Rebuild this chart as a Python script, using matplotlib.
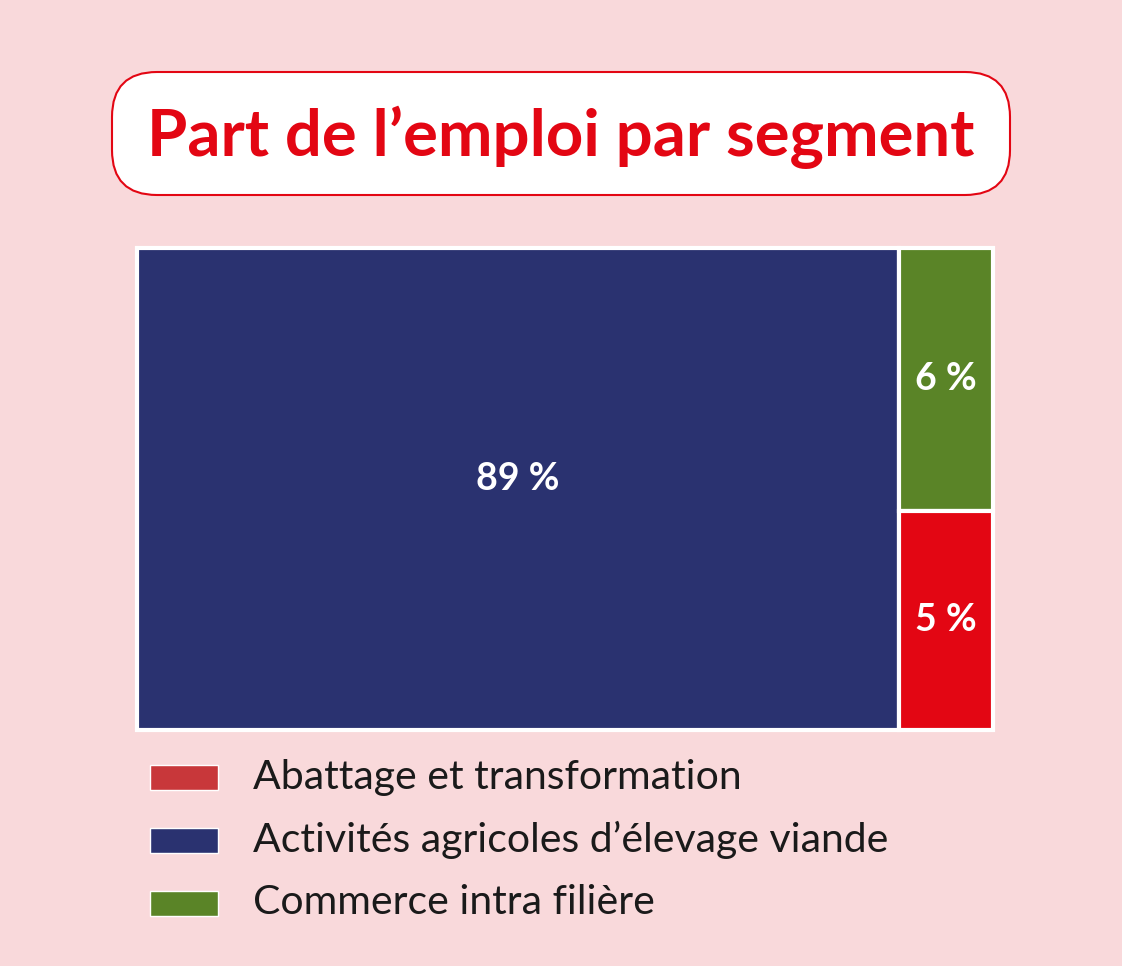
import matplotlib.pyplot as plt
from matplotlib.patches import FancyBboxPatch, Rectangle

plt.rcParams['font.family'] = ['Lato', 'DejaVu Sans']

segments = ['Abattage et transformation', 'Activités agricoles d\u2019élevage viande', 'Commerce intra filière']
shares = [5, 89, 6]
legend_colors = ['#C8373A', '#2A3270', '#5A8427']
tile_colors = ['#E30613', '#2A3270', '#5A8427']

bg = '#F9D9DB'
fig = plt.figure(figsize=(11.22, 9.66), dpi=100, facecolor=bg)
ax = fig.add_axes([0, 0, 1, 1])
ax.set_xlim(0, 1122)
ax.set_ylim(966, 0)
ax.axis('off')

# title box
ax.add_patch(FancyBboxPatch((112, 72), 898, 123, boxstyle='round,pad=0,rounding_size=45',
                            fc='white', ec='#E30613', lw=1.5))
ax.text(561, 137, 'Part de l\u2019emploi par segment', color='#E30613', fontsize=47,
        fontweight='bold', ha='center', va='center')

# treemap: big tile on the left, the two small ones stacked on the right
x0, y0, w, h = 137, 248, 856, 482
total = sum(shares)
big = shares[1]
wb = w * big / total
ax.add_patch(Rectangle((x0, y0), wb, h, fc=tile_colors[1], ec='white', lw=3))
ax.text(x0 + wb / 2, y0 + h / 2 - 10, f'{big} %', color='white', fontsize=27,
        fontweight='bold', ha='center', va='center')
rest = shares[2] + shares[0]
yy = y0
for i in [2, 0]:
    hh = h * shares[i] / rest
    ax.add_patch(Rectangle((x0 + wb, yy), w - wb, hh, fc=tile_colors[i], ec='white', lw=3))
    ax.text(x0 + wb + (w - wb) / 2, yy + hh / 2, f'{shares[i]} %', color='white',
            fontsize=27, fontweight='bold', ha='center', va='center')
    yy += hh

# legend
for k, (lab, c) in enumerate(zip(segments, legend_colors)):
    y = 777 + k * 63
    ax.add_patch(Rectangle((150, y - 12), 68, 25, fc=c, ec='white', lw=1))
    ax.text(253, y, lab, fontsize=29.5, color='#1a1a1a', ha='left', va='center')

fig.savefig('out.png', dpi=100, facecolor=bg)
